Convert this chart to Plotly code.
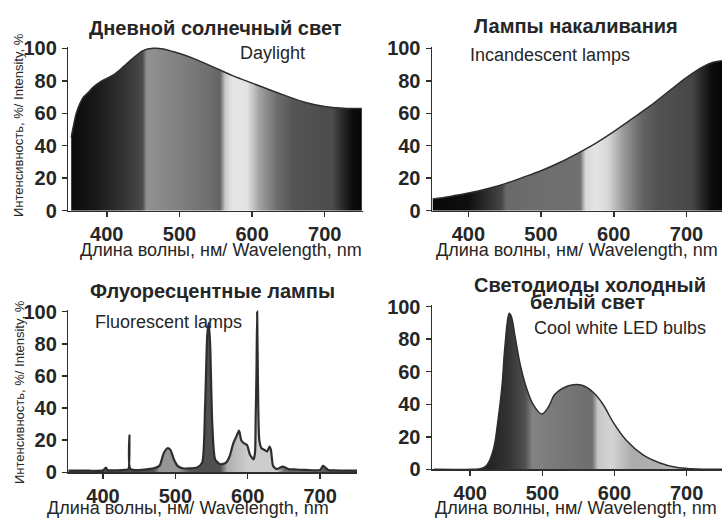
import plotly.graph_objects as go

# ---------------- data ----------------
wl_day = [351, 354, 358, 363, 368, 375, 381, 390, 400, 409, 423, 436, 450, 464, 478, 491, 519, 551, 574, 601, 643, 675, 702, 730, 751]
int_day = [45, 52, 60, 66, 70, 73, 76, 79, 81.5, 83.6, 88.7, 93.8, 98.6, 100, 99.6, 98, 93.8, 87.6, 83, 78.4, 71.3, 66.5, 64, 63, 63]

wl_inc = [351, 375, 402, 430, 453, 475, 500, 525, 549, 575, 600, 625, 650, 677, 700, 723, 737, 749]
int_inc = [7.2, 8.8, 11, 14, 17, 20.5, 24.6, 29.5, 35, 41.5, 48.7, 56.5, 64.5, 74, 82, 88.7, 91.4, 92.4]

wl_fl = [352, 380, 400, 404, 406, 409, 430, 435, 436.5, 438, 470, 478, 484, 489, 493, 498, 503, 510, 530, 537, 541,
         544, 546, 548, 551, 555, 562, 570, 575, 580, 584, 588, 591, 595, 599, 603, 606, 608, 610, 611, 612, 613,
         614, 616, 619, 623, 627, 630, 632, 635, 640, 648, 652, 656, 665, 680, 700, 704, 707, 711, 720, 740, 751]
int_fl = [1, 1, 1.2, 3, 1.5, 1.2, 1.5, 2, 23, 2, 2.5, 4, 12, 15, 14, 8, 4, 2.5, 3, 6, 40,
          85, 93, 80, 30, 8, 5, 6, 10, 18, 22, 26, 20, 18, 17, 11, 9, 8, 12, 35, 60, 100,
          60, 20, 15, 14, 13, 16, 14, 4, 2, 3.5, 3, 2, 1.8, 1.5, 1.5, 4, 3, 1.5, 1.2, 1, 1]

wl_led = [350, 405, 414, 423, 432, 439, 444, 448, 454, 457, 462, 469, 478, 487, 499, 508, 517, 529, 543, 556, 570,
          584, 598, 616, 639, 662, 685, 708, 730, 749]
int_led = [0, 0, 0.3, 2.5, 12, 32, 51, 75, 96, 94, 82, 65, 50, 40, 34, 38, 46, 50, 52, 51.5, 47.5,
           40, 29, 18, 9, 4, 1.2, 0.3, 0, 0]

y_ticks = [0, 20, 40, 60, 80, 100]
x_ticks = [400, 500, 600, 700]

titles = ["Дневной солнечный свет", "Лампы накаливания", "Флуоресцентные лампы"]
title_led = ["Светодиоды холодный", "белый свет"]
labels_en = ["Daylight", "Incandescent lamps", "Fluorescent lamps", "Cool white LED bulbs"]
x_title = "Длина волны, нм/ Wavelength, nm"
y_title = "Интенсивность, %/ Intensity, %"

# ---------------- styles: gray gradients (nm, gray level) ----------------
grad_day = [(347, 10), (380, 22), (395, 32), (428, 55), (449, 75), (455, 145), (496, 130), (542, 110),
            (556, 100), (563, 200), (573, 230), (593, 228), (611, 160), (634, 110), (656, 85), (711, 75),
            (725, 40), (738, 12), (752, 5)]
grad_inc = [(350, 8), (400, 15), (446, 70), (452, 105), (500, 110), (554, 112), (561, 215), (575, 228),
            (592, 215), (615, 150), (639, 100), (661, 82), (708, 70), (721, 40), (735, 12), (749, 5)]
grad_fl = [(352, 70), (470, 80), (478, 150), (505, 150), (520, 90), (535, 80), (562, 80), (572, 175),
           (600, 205), (640, 205), (650, 110), (751, 80)]
grad_led = [(347, 30), (416, 30), (452, 50), (476, 80), (486, 130), (545, 115), (569, 110), (577, 200),
            (596, 212), (624, 172), (660, 175), (700, 195), (749, 205)]

W, H = 722, 518
TXT = "#262626"
LINE = "#2e2e2e"


def colorscale(stops):
    lo, hi = stops[0][0], stops[-1][0]
    return [[(nm - lo) / (hi - lo), f"rgb({g},{g},{g})"] for nm, g in stops], lo, hi


def px_x(p):
    return p / W


def px_y(p):
    return (H - p) / H


fig = go.Figure()

panels = [
    # data, gradient, x domain px, x range, y0 px, px per unit, line width
    (wl_day, int_day, grad_day, (68.3, 362.5), (347, 752), 210.7, 1.624, 1.5),
    (wl_inc, int_inc, grad_inc, (432, 722), (350, 748.9), 210.7, 1.624, 1.5),
    (wl_fl, int_fl, grad_fl, (68.3, 357), (352, 751), 472.3, 1.606, 2.2),
    (wl_led, int_led, grad_led, (432, 722), (347, 749), 469.3, 1.626, 1.5),
]

for i, (xs, ys, grad, xdom, xr, y0, sc, lw) in enumerate(panels, start=1):
    cs, lo, hi = colorscale(grad)
    sfx = "" if i == 1 else str(i)
    fig.add_trace(go.Scatter(
        x=xs, y=ys, mode="lines", line=dict(color=LINE, width=lw, shape="spline", smoothing=0.6 if i == 3 else 1.0),
        fill="tozeroy",
        fillgradient=dict(type="horizontal", colorscale=cs, start=lo, stop=hi),
        xaxis="x" + sfx, yaxis="y" + sfx, showlegend=False, hoverinfo="skip",
    ))
    ytop = y0 - 101 * sc
    common = dict(showgrid=False, zeroline=False, showline=True, linecolor=LINE, linewidth=1.5,
                  ticks="outside", ticklen=5, tickwidth=1.5, tickcolor=LINE, automargin=False,
                  tickfont=dict(family="Liberation Sans", size=20, color=TXT, weight="bold"))
    fig.layout["xaxis" + sfx] = dict(domain=[px_x(xdom[0]), px_x(xdom[1])], range=list(xr),
                                     anchor="y" + sfx, tickvals=x_ticks, **common)
    fig.layout["yaxis" + sfx] = dict(domain=[px_y(y0), px_y(ytop)], range=[0, 101],
                                     anchor="x" + sfx, tickvals=y_ticks, ticklabelstandoff=1, **common)

ann = []


def add_text(text, x, y, size, bold=False, angle=0):
    ann.append(dict(text=text, x=px_x(x), y=px_y(y), xref="paper", yref="paper", showarrow=False,
                    xanchor="center", yanchor="middle", textangle=angle,
                    font=dict(family="Liberation Sans", size=size, color=TXT,
                              weight="bold" if bold else "normal")))


add_text(titles[0], 216, 28, 20, True)
add_text(titles[1], 576, 26, 20, True)
add_text(titles[2], 212, 291, 20, True)
add_text(title_led[0], 590, 285, 20, True)
add_text(title_led[1], 587, 302, 20, True)

add_text(labels_en[0], 272, 53, 18)
add_text(labels_en[1], 550, 55, 18)
add_text(labels_en[2], 168, 322, 18)
add_text(labels_en[3], 620, 328, 18)

add_text(x_title, 221, 250, 18)
add_text(x_title, 577, 250, 18)
add_text(x_title, 188, 508, 18)
add_text(x_title, 576, 507.5, 18)

add_text(y_title, 19, 125, 13, angle=-90)
add_text(y_title, 19, 392, 13, angle=-90)

fig.update_layout(width=W, height=H, margin=dict(l=0, r=0, t=0, b=0, pad=0, autoexpand=False),
                  paper_bgcolor="white", plot_bgcolor="rgba(0,0,0,0)", annotations=ann)

fig.write_html(
    "out.html",
    config={"displayModeBar": False, "staticPlot": True},
    post_script=(
        "document.documentElement.style.margin='0';document.documentElement.style.padding='0';"
        "document.documentElement.style.overflow='hidden';"
        "document.body.style.margin='0';document.body.style.padding='0';document.body.style.overflow='hidden';"
        "var d=document.getElementById('{plot_id}');d.style.position='fixed';d.style.top='0';d.style.left='0';"
    ),
)
